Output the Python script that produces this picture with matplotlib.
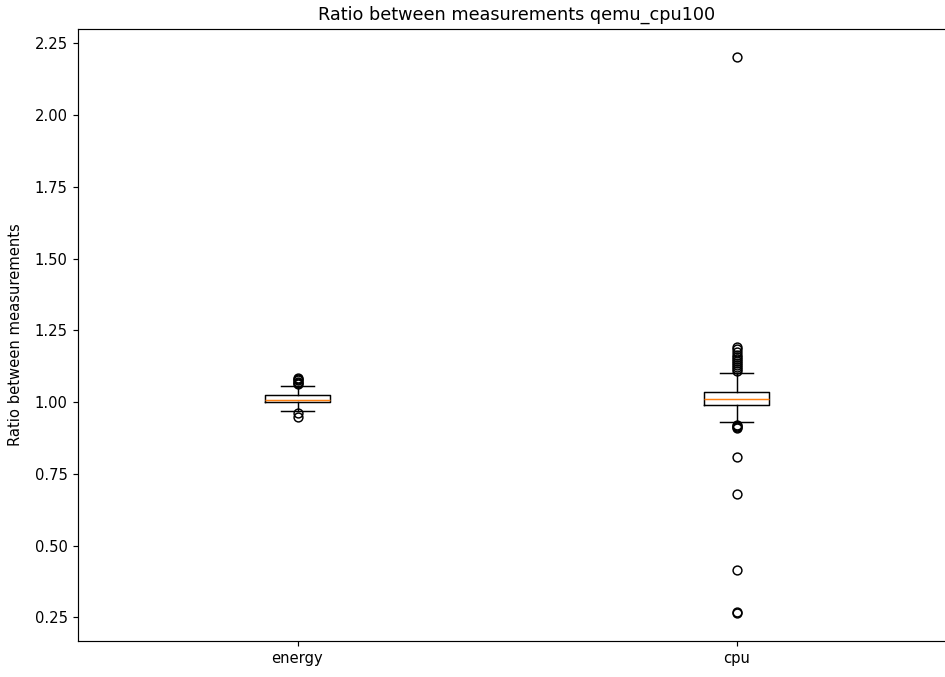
import matplotlib
matplotlib.use("Agg")
import matplotlib.pyplot as plt

labels = ["energy", "cpu"]
medians = [1.009, 1.012]
q1 = [1.000, 0.990]
q3 = [1.024, 1.036]
whislo = [0.969, 0.932]
whishi = [1.058, 1.102]
energy_fliers = [1.062, 1.066, 1.071, 1.076, 1.080, 1.084, 0.962, 0.948]
cpu_fliers = [1.107, 1.114, 1.121, 1.128, 1.135, 1.142, 1.150, 1.158,
              1.166, 1.175, 1.184, 1.192, 0.922, 0.918, 0.914, 0.910,
              0.810, 0.680, 0.416, 0.270, 0.265, 2.203]
fliers = [energy_fliers, cpu_fliers]

stats = []
for i, lab in enumerate(labels):
    stats.append(dict(label=lab, med=medians[i], q1=q1[i], q3=q3[i],
                      whislo=whislo[i], whishi=whishi[i], fliers=fliers[i]))

DPI = 106
fig = plt.figure(figsize=(945 / DPI, 677 / DPI), dpi=DPI)
# the original figure was cropped on the right, so the axes run off the edge
ax = fig.add_axes([78 / 945, 1 - 641 / 677, 878 / 945, 612 / 677])
ax.bxp(stats, widths=0.15)
ax.spines["right"].set_visible(False)
ax.set_title("Ratio between measurements qemu_cpu100")
ax.set_ylabel("Ratio between measurements", labelpad=8)
fig.savefig("out.png", dpi=DPI)
